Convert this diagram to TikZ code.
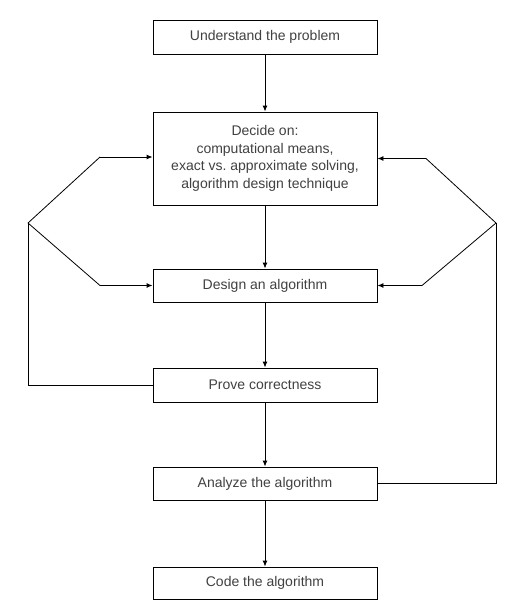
\documentclass[tikz,border=0pt]{standalone}
\usepackage{fontspec}
\setmainfont{Liberation Sans}
\usetikzlibrary{arrows.meta}
\definecolor{textgray}{RGB}{65,65,65}

\begin{document}
\begin{tikzpicture}[x=1pt, y=-1pt,
    stepbox/.style={rectangle, draw=black, line width=0.9pt, fill=white, text=textgray,
        minimum width=224pt, minimum height=34pt, inner sep=0pt, align=center,
        font=\fontsize{14}{17.5}\selectfont},
    flow/.style={-{Latex[length=6pt, width=5pt]}, line width=0.9pt},
    back/.style={line width=0.8pt}]
    \useasboundingbox (0,0) rectangle (520,613);

    \node[stepbox] (understand) at (265, 37) {Understand the problem};
    \node[stepbox, minimum height=93pt] (decide) at (265, 158.5) {Decide on:\\computational means,\\exact vs.\ approximate solving,\\algorithm design technique};
    \node[stepbox, minimum height=33pt] (design) at (265, 285.5) {Design an algorithm};
    \node[stepbox] (prove) at (265, 385) {Prove correctness};
    \node[stepbox, minimum height=33pt] (analyze) at (265, 483.5) {Analyze the algorithm};
    \node[stepbox, minimum height=32pt] (code) at (265, 583) {Code the algorithm};

    % feedback points
    \coordinate (lj) at (28, 223);
    \coordinate (lup) at (100, 157);
    \coordinate (ldown) at (100, 285.5);
    \coordinate (rj) at (496, 223);
    \coordinate (rup) at (426, 158.5);
    \coordinate (rdown) at (422, 285.5);

    \draw[flow] (understand) -- (decide);
    \draw[flow] (decide) -- (design);
    \draw[flow] (design) -- (prove);
    \draw[flow] (prove) -- (analyze);
    \draw[flow] (analyze) -- (code);

    % left loop
    \draw[back] (prove.west) -| (lj);
    \draw[back] (lj) -- (lup);
    \draw[flow] (lup) -- (lup -| decide.west);
    \draw[back] (lj) -- (ldown);
    \draw[flow] (ldown) -- (design.west);

    % right loop
    \draw[back] (analyze.east) -| (rj);
    \draw[back] (rj) -- (rup);
    \draw[flow] (rup) -- (decide.east);
    \draw[back] (rj) -- (rdown);
    \draw[flow] (rdown) -- (design.east);
\end{tikzpicture}
\end{document}
